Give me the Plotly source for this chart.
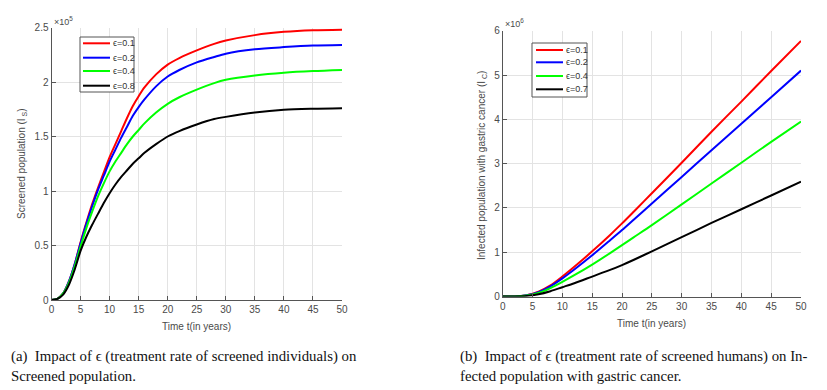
import plotly.graph_objects as go

# ---- data ----
eps_a = ["0.1", "0.2", "0.4", "0.8"]
eps_b = ["0.1", "0.2", "0.4", "0.7"]
colors = ["#ff0000", "#0000ff", "#00ff00", "#000000"]

# (a) screened population, x 10^5
t_a = [0, 1, 2, 3, 4, 5, 6, 7, 8, 9, 10, 11, 12, 13, 14, 15, 16, 18, 20, 22, 25, 28, 30, 35, 40, 45, 50]
Is_01 = [0, 0.01, 0.06, 0.17, 0.33, 0.53, 0.71, 0.88, 1.03, 1.17, 1.31, 1.43, 1.55, 1.67, 1.78, 1.87, 1.95,
         2.07, 2.16, 2.22, 2.29, 2.35, 2.38, 2.43, 2.46, 2.475, 2.48]
Is_02 = [0, 0.01, 0.06, 0.17, 0.33, 0.52, 0.70, 0.86, 1.01, 1.14, 1.27, 1.38, 1.49, 1.59, 1.69, 1.77, 1.84,
         1.96, 2.05, 2.11, 2.18, 2.23, 2.26, 2.30, 2.32, 2.335, 2.34]
Is_04 = [0, 0.01, 0.06, 0.16, 0.31, 0.49, 0.66, 0.81, 0.95, 1.07, 1.18, 1.27, 1.35, 1.43, 1.50, 1.56, 1.62,
         1.72, 1.80, 1.86, 1.93, 1.99, 2.02, 2.06, 2.085, 2.10, 2.11]
Is_08 = [0, 0.01, 0.05, 0.14, 0.28, 0.45, 0.58, 0.69, 0.79, 0.89, 0.98, 1.06, 1.13, 1.19, 1.25, 1.30, 1.35,
         1.43, 1.50, 1.55, 1.61, 1.66, 1.68, 1.72, 1.745, 1.755, 1.76]

# (b) infected population with gastric cancer, x 10^6
t_b = [0, 2, 4, 6, 8, 10, 12, 15, 18, 20, 22, 25, 30, 35, 40, 45, 50]
Ic_01 = [0, 0, 0.03, 0.11, 0.25, 0.45, 0.67, 1.02, 1.39, 1.65, 1.92, 2.33, 3.02, 3.72, 4.40, 5.09, 5.77]
Ic_02 = [0, 0, 0.03, 0.10, 0.23, 0.41, 0.61, 0.93, 1.27, 1.50, 1.74, 2.10, 2.70, 3.30, 3.90, 4.50, 5.10]
Ic_04 = [0, 0, 0.02, 0.08, 0.19, 0.33, 0.48, 0.72, 0.98, 1.16, 1.34, 1.61, 2.08, 2.55, 3.02, 3.49, 3.95]
Ic_07 = [0, 0, 0.01, 0.05, 0.12, 0.21, 0.30, 0.45, 0.60, 0.71, 0.83, 1.02, 1.34, 1.66, 1.97, 2.28, 2.59]

series_a = [Is_01, Is_02, Is_04, Is_08]
series_b = [Ic_01, Ic_02, Ic_04, Ic_07]

W, H = 827, 390
OFF = 8  # page body margin


def px(x):
    return (x - OFF) / W


def py(y):
    return 1 - (y - OFF) / H


fig = go.Figure()

for k in range(4):
    fig.add_trace(go.Scatter(x=t_a, y=series_a[k], mode="lines",
                             line=dict(color=colors[k], width=2, shape="spline", smoothing=0.8),
                             name="\u03f5=" + eps_a[k], showlegend=False, xaxis="x", yaxis="y"))
    fig.add_trace(go.Scatter(x=t_b, y=series_b[k], mode="lines",
                             line=dict(color=colors[k], width=2, shape="spline", smoothing=0.8),
                             name="\u03f5=" + eps_b[k], showlegend=False, xaxis="x2", yaxis="y2"))

axis_style = dict(showline=True, linecolor="#555555", linewidth=1, ticks="inside", ticklen=4,
                  tickcolor="#555555", showgrid=True, gridcolor="#e3e3e3", zeroline=False,
                  automargin=False,
                  tickfont=dict(family="Liberation Sans", size=10, color="#4a4a4a"))

fig.update_layout(
    template="none",
    width=W, height=H, autosize=False,
    margin=dict(l=0, r=0, t=0, b=0, pad=0, autoexpand=False),
    paper_bgcolor="white", plot_bgcolor="white",
    showlegend=False,
    xaxis=dict(domain=[px(51.5), px(342)], range=[0, 50], dtick=5, anchor="y", **axis_style),
    yaxis=dict(domain=[py(300), py(27.5)], range=[0, 2.5], dtick=0.5, anchor="x", **axis_style),
    xaxis2=dict(domain=[px(502.7), px(801)], range=[0, 50], dtick=5, anchor="y2", **axis_style),
    yaxis2=dict(domain=[py(296.5), py(30.7)], range=[0, 6], dtick=1, anchor="x2", **axis_style),
)

lab = dict(family="Liberation Sans", size=10, color="#4a4a4a")
ann = []
# axis titles
ann.append(dict(x=px(196), y=py(326), text="Time t(in years)", font=lab))
ann.append(dict(x=px(651), y=py(323), text="Time t(in years)", font=lab))
ann.append(dict(x=px(22), y=py(164), text="Screened population (I<sub> S</sub>)", textangle=-90, font=lab))
ann.append(dict(x=px(482), y=py(166), text="Infected population with gastric cancer (I<sub> C</sub>)",
                textangle=-90, font=lab))
# exponent labels
ann.append(dict(x=px(52), y=py(21), text="\u00d710<sup>5</sup>", xanchor="left",
                font=dict(family="Liberation Sans", size=9, color="#4a4a4a")))
ann.append(dict(x=px(503), y=py(23), text="\u00d710<sup>6</sup>", xanchor="left",
                font=dict(family="Liberation Sans", size=9, color="#4a4a4a")))

# captions
cap = dict(family="Liberation Serif", size=14.8, color="#111111")
ann.append(dict(x=px(8.5), y=py(356), xanchor="left", align="left",
                text="(a)  Impact of \u03f5 (treatment rate of screened individuals) on", font=cap))
ann.append(dict(x=px(8.5), y=py(376), xanchor="left", align="left", text="Screened population.", font=cap))
ann.append(dict(x=px(458), y=py(356), xanchor="left", align="left",
                text="(b)  Impact of \u03f5 (treatment rate of screened humans) on In-", font=cap))
ann.append(dict(x=px(458), y=py(376), xanchor="left", align="left",
                text="fected population with gastric cancer.", font=cap))

shapes = []


# hand-drawn MATLAB-style legend boxes
def add_legend(box, line_x, ys, labels):
    x0, y0, x1, y1 = box
    shapes.append(dict(type="rect", xref="paper", yref="paper", x0=px(x0), x1=px(x1), y0=py(y1), y1=py(y0),
                       line=dict(color="#555555", width=1), fillcolor="white", layer="above"))
    for k in range(4):
        shapes.append(dict(type="line", xref="paper", yref="paper", x0=px(line_x[0]), x1=px(line_x[1]),
                           y0=py(ys[k]), y1=py(ys[k]), line=dict(color=colors[k], width=2), layer="above"))
        ann.append(dict(x=px(line_x[1] + 0.5), y=py(ys[k]), xanchor="left", text=labels[k],
                        font=dict(family="Liberation Sans", size=9, color="#333333")))


add_legend((80, 37, 134, 92), (83, 110), [43.3, 57.7, 71, 85.7], ["\u03f5=" + e for e in eps_a])
add_legend((532, 43, 587, 97), (536, 563), [50, 62.3, 76, 89.3], ["\u03f5=" + e for e in eps_b])

for a in ann:
    a.setdefault("xanchor", "center")
    a.update(xref="paper", yref="paper", showarrow=False, yanchor="middle")

fig.update_layout(annotations=ann, shapes=shapes)

fig.write_html("out.html")
